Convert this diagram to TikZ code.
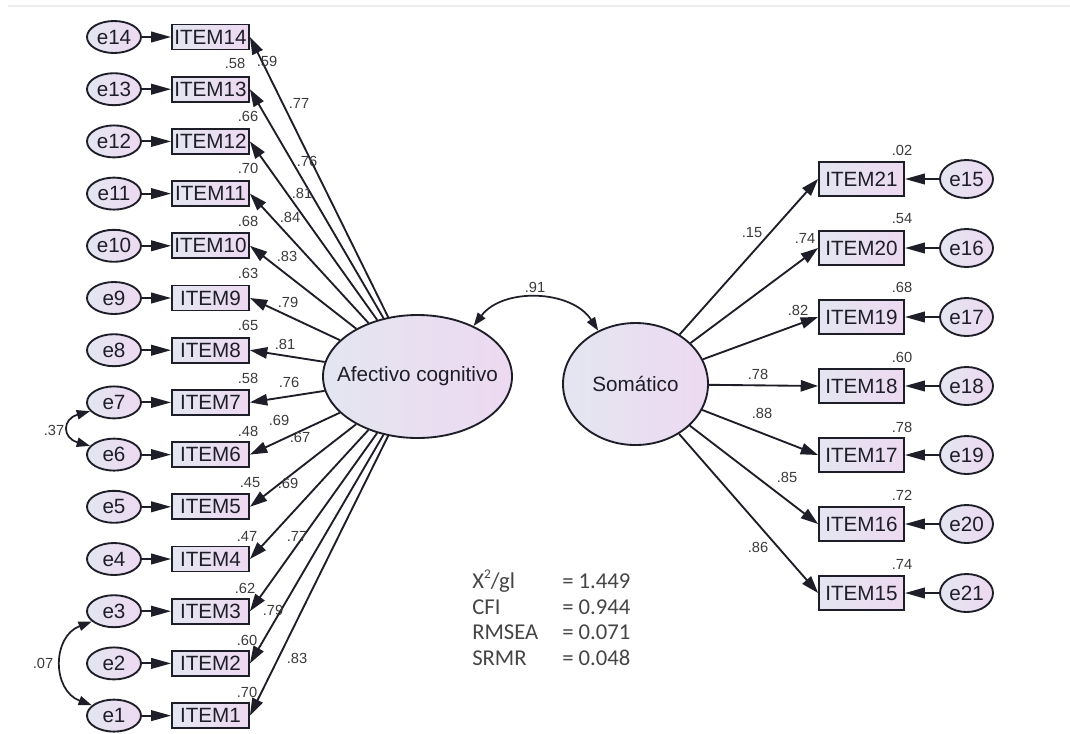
\documentclass[tikz,border=0pt]{standalone}
\usepackage{fontspec}
\setmainfont{Liberation Sans}
\newfontfamily\fitfont{Carlito}
\usetikzlibrary{arrows.meta,shapes.geometric}
\definecolor{Ink}{HTML}{1E1E28}
\definecolor{FillL}{HTML}{E3E6F0}
\definecolor{FillR}{HTML}{EDD9F1}
\definecolor{NumGrey}{HTML}{3A3A3A}
\definecolor{FitGrey}{HTML}{454545}
\newcommand{\Coef}[4]{%
  \node[coef] (#1) at (#2,#3) {#4};%
}
\tikzset{
  obsbox/.style={draw=Ink,line width=1.4pt,left color=FillL,right color=FillR,
    inner sep=0pt,font=\fontsize{15.5}{18}\selectfont,text=Ink},
  errnode/.style={ellipse,draw=Ink,line width=1.4pt,left color=FillL,right color=FillR,
    inner sep=0pt,minimum width=40.5pt,minimum height=24pt,font=\fontsize{15.5}{18}\selectfont,text=Ink},
  latent/.style={ellipse,draw=Ink,line width=1.4pt,left color=FillL,right color=FillR,
    inner sep=-12pt,font=\fontsize{15.5}{18}\selectfont,text=Ink},
  coef/.style={font=\fontsize{11}{12}\selectfont,text=NumGrey,inner sep=0pt},
  loadarr/.style={draw=Ink,line width=1.4pt,-{Triangle[length=13pt,width=8.5pt]}},
  errarr/.style={draw=Ink,line width=1.4pt,-{Triangle[length=15pt,width=8pt]}},
  covarr/.style={draw=Ink,line width=1.3pt,{Triangle[length=10pt,width=7pt]}-{Triangle[length=10pt,width=7pt]}},
  fitrow/.style={anchor=base west,inner sep=0pt,font=\fitfont\fontsize{17}{20}\selectfont,text=FitGrey}
}
\begin{document}
\begin{tikzpicture}[x=0.75pt,y=-0.75pt]
\useasboundingbox (0,0) rectangle (1070,733);
\draw[black!7,line width=0.8pt] (8,6) -- (1070,6);
% factors
\node[latent,minimum width=141.75pt,minimum height=92.25pt] (afe) at (417.5,376.5) {Afectivo cognitivo};
\node[latent,minimum width=108.75pt,minimum height=91.5pt] (som) at (635.5,384) {Som\'atico};
\draw[covarr] (afe.42) to[bend left=55] (som.125);
\Coef{cov}{535}{287}{.91}
% left items
\foreach \i in {1,...,14} {
  \pgfmathsetmacro\yy{37+(14-\i)*52.2}
  \node[obsbox,minimum width=57.75pt,minimum height=18.75pt] (i\i) at (210.5,\yy) {ITEM\i};
  \node[errnode] (e\i) at (114,\yy) {e\i};
  \draw[errarr] (e\i) -- (i\i);
  \draw[loadarr] (afe) -- (i\i.east);
}
% right items
\foreach \i in {15,...,21} {
  \pgfmathsetmacro\yy{179+(21-\i)*69}
  \pgfmathtruncatemacro\ee{36-\i}
  \node[obsbox,minimum width=63.75pt,minimum height=25.5pt] (i\i) at (861.5,\yy) {ITEM\i};
  \node[errnode,minimum width=39.75pt,minimum height=28.5pt] (e\ee) at (966.5,\yy) {e\ee};
  \draw[errarr] (e\ee) -- (i\i);
  \draw[loadarr] (som) -- (i\i.west);
}
% error covariances
\draw[covarr] (e7.200) .. controls +(-28,8) and +(-28,-8) .. (e6.160);
\draw[covarr] (e3.205) .. controls +(-40,15) and +(-40,-15) .. (e1.155);
\Coef{c76}{54}{430}{.37}
\Coef{c31}{43}{663}{.07}
% squared correlations
\Coef{sq13}{235}{63}{.58}
\Coef{sq12}{248}{116}{.66}
\Coef{sq11}{248}{168}{.70}
\Coef{sq10}{248}{221}{.68}
\Coef{sq9}{248}{273}{.63}
\Coef{sq8}{248}{325}{.65}
\Coef{sq7}{248}{378}{.58}
\Coef{sq6}{248}{431}{.48}
\Coef{sq5}{250}{483}{.45}
\Coef{sq4}{247}{536}{.47}
\Coef{sq3}{245}{588}{.62}
\Coef{sq2}{247}{640}{.60}
\Coef{sq1}{247}{692}{.70}
\Coef{sq21}{902}{150}{.02}
\Coef{sq20}{902}{219}{.54}
\Coef{sq19}{902}{287}{.68}
\Coef{sq18}{902}{357}{.60}
\Coef{sq17}{902}{427}{.78}
\Coef{sq16}{902}{495}{.72}
\Coef{sq15}{902}{564}{.74}
% loadings
\Coef{ld1}{267}{61}{.59}
\Coef{ld2}{299}{103}{.77}
\Coef{ld3}{307}{161}{.76}
\Coef{ld4}{302}{193}{.81}
\Coef{ld5}{290}{217}{.84}
\Coef{ld6}{287}{256}{.83}
\Coef{ld7}{288}{302}{.79}
\Coef{ld8}{285}{344}{.81}
\Coef{ld9}{289}{382}{.76}
\Coef{ld10}{279}{420}{.69}
\Coef{ld11}{300}{437}{.67}
\Coef{ld12}{288}{483}{.69}
\Coef{ld13}{297}{536}{.77}
\Coef{ld14}{273}{610}{.79}
\Coef{ld15}{297}{658}{.83}
\Coef{rd21}{752}{233}{.15}
\Coef{rd20}{805}{238}{.74}
\Coef{rd19}{798}{310}{.82}
\Coef{rd18}{758}{374}{.78}
\Coef{rd17}{762}{413}{.88}
\Coef{rd16}{787}{477}{.85}
\Coef{rd15}{758}{547}{.86}
% fit indices
\foreach \k/\v [count=\n] in {{X\raisebox{0.42em}{\fontsize{10}{10}\selectfont 2}/gl}/{= 1.449},CFI/{= 0.944},RMSEA/{= 0.071},SRMR/{= 0.048}} {
  \node[fitrow] (fitk\n) at (472,563+\n*25.5) {\k};
  \node[fitrow] (fitv\n) at (562,563+\n*25.5) {\v};
}
\end{tikzpicture}
\end{document}
